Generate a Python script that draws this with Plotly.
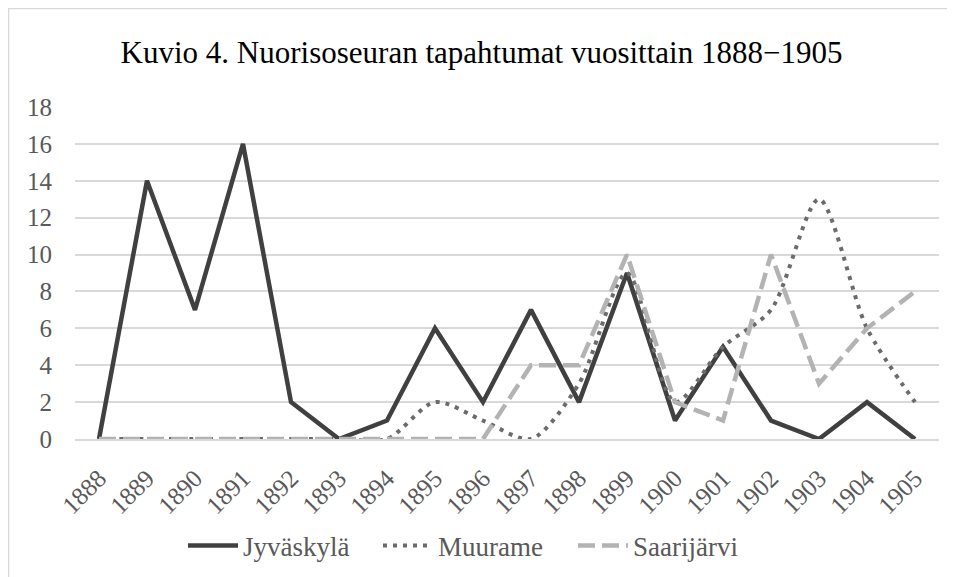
import plotly.graph_objects as go

years = [str(y) for y in range(1888, 1906)]
jyvaskyla = [0, 14, 7, 16, 2, 0, 1, 6, 2, 7, 2, 9, 1, 5, 1, 0, 2, 0]
muurame = [0, 0, 0, 0, 0, 0, 0, 2, 1, 0, 3, 9, 2, 5, 7, 13, 6, 2]
saarijarvi = [0, 0, 0, 0, 0, 0, 0, 0, 0, 4, 4, 10, 2, 1, 10, 3, 6, 8]
y_ticks = list(range(0, 20, 2))

# page has an 8px body margin, so the figure sits at (8, 8)
W, H = 947, 569
L, R, T, B = 67, 16, 99, 138
pw, ph = W - L - R, H - T - B

SERIF = "Liberation Serif"

fig = go.Figure()
fig.add_trace(go.Scatter(x=years, y=jyvaskyla, name="Jyväskylä", mode="lines",
                         line=dict(color="#404040", width=4.5)))
fig.add_trace(go.Scatter(x=years, y=muurame, name="Muurame", mode="lines",
                         line=dict(color="#6b6b6b", width=4, dash="4px,6px",
                                   shape="spline", smoothing=0.8)))
fig.add_trace(go.Scatter(x=years, y=saarijarvi, name="Saarijärvi", mode="lines",
                         line=dict(color="#b3b3b3", width=4.5, dash="17px,7px")))

def px_x(x):
    return (x - L) / pw

def px_y(y):
    return (H - B - y) / ph

fig.add_shape(type="rect", xref="paper", yref="paper",
              x0=px_x(0.5), x1=px_x(W + 10), y0=px_y(0.5), y1=px_y(H + 10),
              line=dict(color="#d9d9d9", width=1.5), fillcolor="rgba(0,0,0,0)",
              layer="below")

fig.update_layout(
    width=W, height=H,
    margin=dict(l=L, r=R, t=T, b=B, pad=0, autoexpand=False),
    paper_bgcolor="white", plot_bgcolor="white",
    font=dict(family=SERIF, color="#595959", size=24),
    title=dict(text="Kuvio 4. Nuorisoseuran tapahtumat vuosittain 1888−1905",
               x=0.5, xref="container", xanchor="center", y=1 - 44 / H, yanchor="middle",
               font=dict(family=SERIF, size=31, color="#000000")),
    showlegend=True,
    legend=dict(orientation="h", x=px_x(175), xanchor="left", y=px_y(538), yanchor="middle",
                font=dict(family=SERIF, size=27, color="#595959"),
                itemwidth=50, entrywidth=130, entrywidthmode="pixels",
                traceorder="normal", bgcolor="rgba(0,0,0,0)"),
    xaxis=dict(type="category", range=[-0.5, 17.5], showgrid=False,
               showline=True, linecolor="#d9d9d9", linewidth=1.5, automargin=False,
               tickangle=-45, tickfont=dict(family=SERIF, size=25, color="#595959"),
               ticks="", ticklabelstandoff=13, zeroline=False),
    yaxis=dict(range=[0, 18], tickvals=y_ticks, showgrid=True, gridcolor="#d9d9d9",
               gridwidth=1.5, showline=False, zeroline=False, automargin=False,
               tickfont=dict(family=SERIF, size=25, color="#595959"), ticks="",
               ticklabelstandoff=22),
)

fig.write_html("out.html")
